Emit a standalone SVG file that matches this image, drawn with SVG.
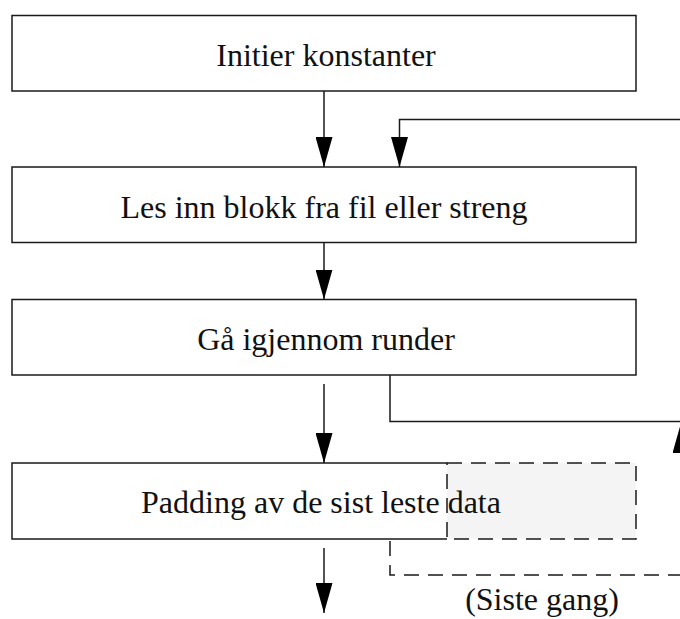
<svg xmlns="http://www.w3.org/2000/svg" width="680" height="619" viewBox="0 0 680 619">
<style>
.box{fill:#fff;stroke:#1a1a1a;stroke-width:1.5}
.lbl{font-family:"Liberation Serif","Times New Roman",serif;font-size:32px;fill:#111;text-anchor:middle}
.conn{fill:none;stroke:#1a1a1a;stroke-width:1.5}
.dash{stroke-dasharray:15 9}
</style>
<defs>
<marker id="ah" markerUnits="userSpaceOnUse" markerWidth="30" markerHeight="17" viewBox="0 0 30 17" refX="30" refY="8.5" orient="auto">
<path d="M0,0 L30,8.5 L0,17 z" fill="#000"/>
</marker>
</defs>
<g id="n1"><rect class="box" x="12" y="15.5" width="624" height="75.5"/><text class="lbl" x="326" y="65.5">Initier konstanter</text></g>
<g id="n2"><rect class="box" x="12" y="167" width="624" height="75.5"/><text class="lbl" x="324" y="217.5">Les inn blokk fra fil eller streng</text></g>
<g id="n3"><rect class="box" x="12" y="299.5" width="624" height="75.5"/><text class="lbl" x="326" y="349.5">Gå igjennom runder</text></g>
<g id="n4">
<path class="conn" d="M447,463 H12 V539 H447"/>
<rect class="conn dash" x="447" y="463" width="189" height="76" style="fill:#f4f4f4"/>
<text class="lbl" x="321" y="513">Padding av de sist leste data</text>
</g>
<g id="connectors">
<path class="conn" d="M324,91 V167" marker-end="url(#ah)"/>
<path class="conn" d="M690,119.5 H399.5 V167" marker-end="url(#ah)"/>
<path class="conn" d="M324,242.5 V299.5" marker-end="url(#ah)"/>
<path class="conn" d="M324,384 V463" marker-end="url(#ah)"/>
<path class="conn" d="M390,375 V421.5 H690"/>
<path class="conn dash" d="M390,541 V575 H681 V423" marker-end="url(#ah)"/>
<path class="conn" d="M324,548 V613" marker-end="url(#ah)"/>
<text class="lbl" x="542" y="610">(Siste gang)</text>
</g>
</svg>
